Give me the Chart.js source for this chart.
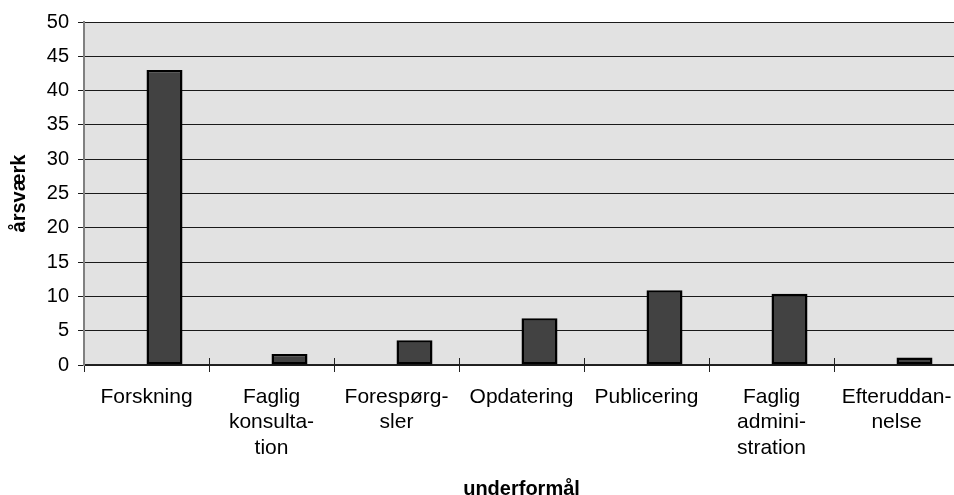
<!DOCTYPE html>
<html>
<head>
<meta charset="utf-8">
<script src="https://cdn.jsdelivr.net/npm/chart.js@4/dist/chart.umd.min.js"></script>
<style>
    html, body { margin: 0; padding: 0; background: #fff; overflow: hidden; }
    #wrap { width: 960px; height: 495px; }
</style>
</head>
<body>
<div id="wrap"><canvas id="chart" width="960" height="495"></canvas></div>
<script>
// Data
const categories = [
    'Forskning',
    ['Faglig', 'konsulta-', 'tion'],
    ['Forespørg-', 'sler'],
    'Opdatering',
    'Publicering',
    ['Faglig', 'admini-', 'stration'],
    ['Efteruddan-', 'nelse']
];
const aarsvaerk = [43, 1.6, 3.6, 6.8, 10.9, 10.4, 1.1];
const spacer = [null, null, null, null, null, null, null];

const yTicks = { min: 0, max: 50, step: 5 };
const xTitle = 'underformål';
const yTitle = 'årsværk';

const FONT = 'Liberation Sans, Arial, sans-serif';

// grå baggrund i plotområdet
const plotBackground = {
    id: 'plotBackground',
    beforeDraw(chart) {
        const { ctx, chartArea: a } = chart;
        ctx.save();
        ctx.fillStyle = '#e2e2e2';
        ctx.fillRect(a.left, a.top, a.right - a.left, a.bottom - a.top);
        ctx.restore();
    }
};

// tick-streger på x-aksen går også lidt op i plotområdet
const crossTicks = {
    id: 'crossTicks',
    afterDraw(chart) {
        const { ctx, chartArea: a } = chart;
        const x = chart.scales.x;
        ctx.save();
        ctx.strokeStyle = '#222';
        ctx.lineWidth = 1;
        for (let i = 1; i < categories.length; i++) {
            const px = Math.round((x.getPixelForValue(i - 1) + x.getPixelForValue(i)) / 2) + 0.5;
            ctx.beginPath();
            ctx.moveTo(px, a.bottom - 7);
            ctx.lineTo(px, a.bottom);
            ctx.stroke();
        }
        ctx.restore();
    }
};

new Chart(document.getElementById('chart'), {
    type: 'bar',
    data: {
        labels: categories,
        datasets: [
            { data: spacer, backgroundColor: 'rgba(0,0,0,0)' },
            {
                label: yTitle,
                data: aarsvaerk,
                backgroundColor: '#424242',
                borderColor: '#000',
                borderWidth: 2.5,
                borderSkipped: false
            }
        ]
    },
    options: {
        responsive: false,
        animation: false,
        layout: { padding: { top: 22, right: 1, left: 0, bottom: 0 } },
        plugins: { legend: { display: false }, tooltip: { enabled: false } },
        datasets: { bar: { categoryPercentage: 0.576, barPercentage: 1 } },
        scales: {
            x: {
                grid: {
                    offset: true,
                    drawOnChartArea: false,
                    color: '#222',
                    tickLength: 7
                },
                border: { color: '#222', width: 1.5 },
                ticks: {
                    color: '#000',
                    maxRotation: 0,
                    autoSkip: false,
                    padding: 12,
                    font: { family: FONT, size: 21, lineHeight: 1.22 }
                },
                title: {
                    display: true,
                    text: xTitle,
                    color: '#000',
                    padding: { top: 0, bottom: -6 },
                    font: { family: FONT, size: 20, weight: 'bold', lineHeight: 1.2 }
                },
                afterFit(s) { s.height = 130; s.paddingLeft = 0; s.paddingRight = 0; }
            },
            y: {
                min: yTicks.min,
                max: yTicks.max,
                grid: { color: '#1a1a1a', lineWidth: 1, tickLength: 6 },
                border: { color: '#808080', width: 2 },
                ticks: {
                    stepSize: yTicks.step,
                    color: '#000',
                    padding: 9,
                    font: { family: FONT, size: 20 }
                },
                title: {
                    display: true,
                    text: yTitle,
                    color: '#000',
                    padding: { top: 7, bottom: 0 },
                    font: { family: FONT, size: 20, weight: 'bold', lineHeight: 1.2 }
                },
                afterFit(s) { s.width = 84; s.paddingTop = 0; s.paddingBottom = 0; }
            }
        }
    },
    plugins: [plotBackground, crossTicks]
});
</script>
</body>
</html>
